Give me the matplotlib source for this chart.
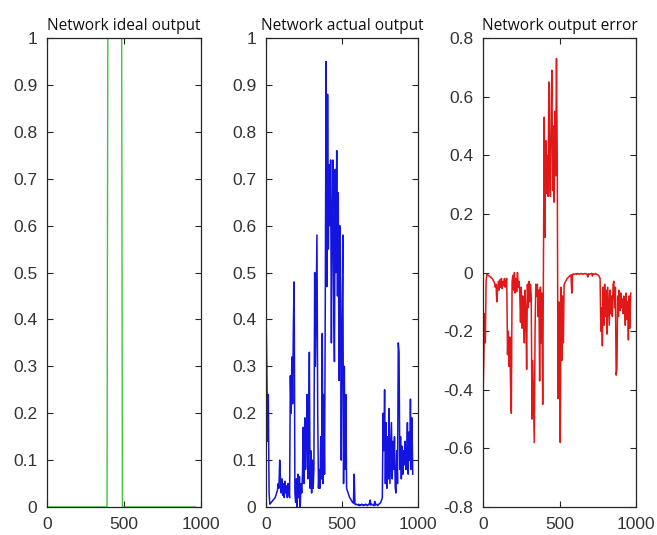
import numpy as np
import matplotlib
matplotlib.use('Agg')
from matplotlib import pyplot as plt

plt.rcParams['axes.unicode_minus'] = False

# sample index (every 5th sample)
x = np.arange(0, 970, 5)

# ideal output: 1 between these samples, 0 elsewhere
pulse_start = 395
pulse_end = 485

# network actual output, read block by block (50 samples per row)
actual = [
    0.43, 0.30, 0.14, 0.24, 0.03, 0.006, 0.008, 0.01, 0.012, 0.014,
    0.016, 0.018, 0.02, 0.025, 0.03, 0.035, 0.05, 0.04, 0.10, 0.06,
    0.03, 0.06, 0.025, 0.05, 0.02, 0.055, 0.03, 0.045, 0.02, 0.05,
    0.03, 0.02, 0.28, 0.20, 0.32, 0.22, 0.39, 0.48, 0.03, 0.01,
    0.06, 0.00, 0.07, 0.02, 0.065, 0.00, 0.05, 0.03, 0.07, 0.17,
    0.05, 0.19, 0.08, 0.15, 0.24, 0.06, 0.14, 0.33, 0.04, 0.12,
    0.03, 0.10, 0.04, 0.08, 0.50, 0.30, 0.45, 0.58, 0.20, 0.04,
    0.08, 0.04, 0.15, 0.06, 0.37, 0.05, 0.24, 0.07, 0.45, 0.95,
    0.47, 0.88, 0.55, 0.73, 0.60, 0.74, 0.35, 0.62, 0.74, 0.45,
    0.31, 0.72, 0.50, 0.76, 0.45, 0.67, 0.27, 0.60, 0.43, 0.10,
    0.38, 0.58, 0.05, 0.30, 0.08, 0.24, 0.04, 0.035, 0.03, 0.025,
    0.02, 0.018, 0.015, 0.012, 0.01, 0.008, 0.07, 0.006, 0.005, 0.006,
    0.005, 0.004, 0.006, 0.003, 0.005, 0.004, 0.006, 0.005, 0.003, 0.005,
    0.004, 0.006, 0.005, 0.003, 0.004, 0.006, 0.005, 0.015, 0.004, 0.006,
    0.005, 0.004, 0.003, 0.012, 0.004, 0.005, 0.006, 0.003, 0.005, 0.007,
    0.008, 0.01, 0.015, 0.02, 0.20, 0.12, 0.25, 0.05, 0.18, 0.04,
    0.15, 0.06, 0.21, 0.05, 0.12, 0.18, 0.06, 0.14, 0.08, 0.15,
    0.04, 0.03, 0.12, 0.05, 0.35, 0.33, 0.08, 0.15, 0.06, 0.13,
    0.07, 0.12, 0.09, 0.14, 0.08, 0.11, 0.18, 0.07, 0.16, 0.10,
    0.23, 0.08, 0.19, 0.07,
]

titles = ['Network ideal output', 'Network actual output', 'Network output error']
xticks = [0, 500, 1000]
yticks_out = [0, 0.1, 0.2, 0.3, 0.4, 0.5, 0.6, 0.7, 0.8, 0.9, 1]
ylabels_out = ['0', '0.1', '0.2', '0.3', '0.4', '0.5', '0.6', '0.7', '0.8', '0.9', '1']
yticks_err = [-0.8, -0.6, -0.4, -0.2, 0, 0.2, 0.4, 0.6, 0.8]
ylabels_err = ['-0.8', '-0.6', '-0.4', '-0.2', '0', '0.2', '0.4', '0.6', '0.8']

actual = np.array(actual)
ideal = np.where((x >= pulse_start) & (x <= pulse_end), 1.0, 0.0)
error = ideal - actual  # error = ideal - actual, matches the third panel

fig = plt.figure(figsize=(6.57, 5.35), dpi=100)
pos = [[0.0715, 0.0523, 0.2344, 0.8766],
       [0.4049, 0.0523, 0.2314, 0.8766],
       [0.7352, 0.0523, 0.2329, 0.8766]]
axs = [fig.add_axes(p) for p in pos]

axs[0].plot(x, ideal, color='#3cc43c', lw=1.0)
axs[1].plot(x, actual, color='#1414e0', lw=1.1)
axs[2].plot(x, error, color='#e01818', lw=1.1)

for i, ax in enumerate(axs):
    ax.set_xlim(0, 1000)
    ax.set_xticks(xticks)
    if i < 2:
        ax.set_ylim(0, 1)
        ax.set_yticks(yticks_out)
        ax.set_yticklabels(ylabels_out)
    else:
        ax.set_ylim(-0.8, 0.8)
        ax.set_yticks(yticks_err)
        ax.set_yticklabels(ylabels_err)
    ax.tick_params(direction='in', length=4, width=0.8, top=True, right=True,
                   colors='#262626', labelsize=12.5, pad=7)
    for lab in ax.get_xticklabels() + ax.get_yticklabels():
        lab.set_family('Liberation Sans')
        lab.set_color('#333333')
    for s in ax.spines.values():
        s.set_color('#262626')
        s.set_linewidth(0.9)
    ax.set_title(titles[i], fontsize=11.2, family='Open Sans', color='#111111', pad=6)

fig.savefig('out.png', dpi=100, facecolor='white')
